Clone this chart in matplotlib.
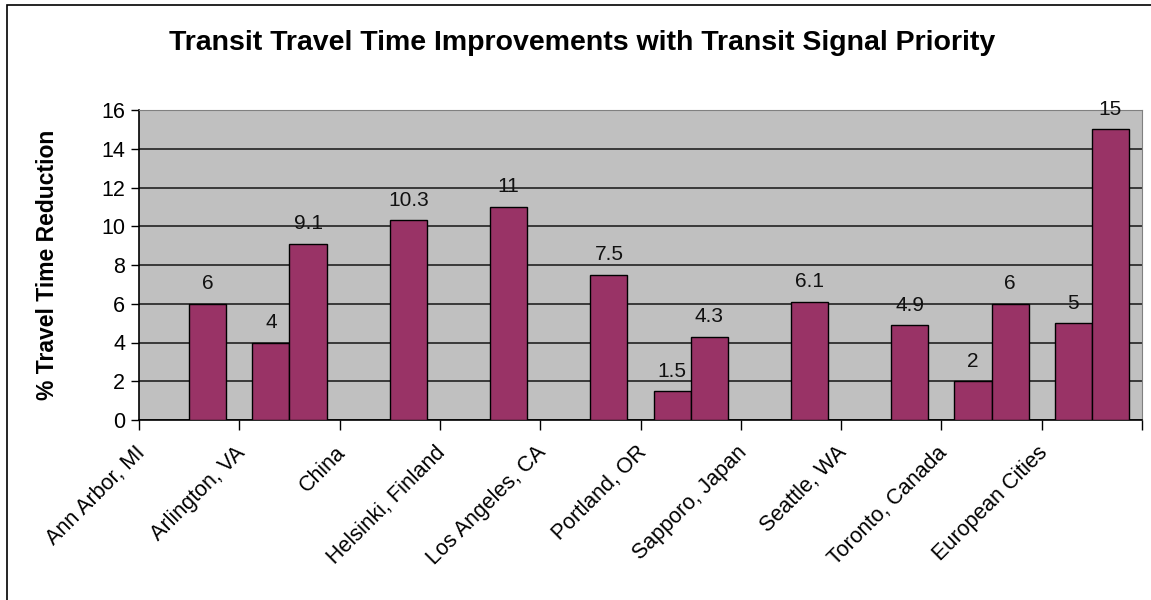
import numpy as np
import matplotlib.pyplot as plt
import matplotlib.transforms as mtransforms
from matplotlib.patches import Rectangle

# ============================
# Transit Signal Priority - travel time reduction
# ============================

cities = ["Ann Arbor, MI", "Arlington, VA", "China", "Helsinki, Finland",
          "Los Angeles, CA", "Portland, OR", "Sapporo, Japan", "Seattle, WA",
          "Toronto, Canada", "European Cities"]
low = [np.nan, 4, np.nan, np.nan, np.nan, 1.5, np.nan, np.nan, 2, 5]
high = [6, 9.1, 10.3, 11, 7.5, 4.3, 6.1, 4.9, 6, 15]
yticks = [0, 2, 4, 6, 8, 10, 12, 14, 16]

plt.rcParams["font.family"] = ["Liberation Sans", "DejaVu Sans"]

bar_color = "#993366"
bg_color = "#C0C0C0"

fig = plt.figure(figsize=(11.51, 6.00), dpi=100)
ax = fig.add_axes([139 / 1151, 180 / 600, 1003 / 1151, 310 / 600])
ax.set_facecolor(bg_color)

x = np.arange(len(cities))
w = 0.37
b1 = ax.bar(x - w / 2, low, w, color=bar_color, edgecolor="black", linewidth=1, zorder=3)
b2 = ax.bar(x + w / 2, high, w, color=bar_color, edgecolor="black", linewidth=1, zorder=3)

# value labels above bars
for bars, vals in [(b1, low), (b2, high)]:
    for rect, v in zip(bars, vals):
        if np.isnan(v):
            continue
        ax.annotate(f"{v:g}", (rect.get_x() + rect.get_width() / 2, v),
                    xytext=(0, 7.5), textcoords="offset points",
                    ha="center", va="bottom", fontsize=15, color="#111111",
                    annotation_clip=False, zorder=5)

ax.set_xlim(-0.5, len(cities) - 0.5)
ax.set_ylim(0, 16)
ax.set_yticks(yticks)
ax.tick_params(axis="y", labelsize=15.5, length=6, width=1, direction="out", pad=4)
ax.yaxis.grid(True, color="#222222", linewidth=1.2, zorder=1)
ax.set_axisbelow(True)

# x ticks at category boundaries, labels at category centres
ax.set_xticks(np.arange(-0.5, len(cities), 1.0))
ax.set_xticklabels([])
ax.tick_params(axis="x", length=7, width=1, direction="out")
ax.set_xticks(x, minor=True)
ax.set_xticklabels(cities, minor=True, rotation=45, ha="right", va="top", fontsize=15.5)
ax.tick_params(axis="x", which="minor", length=0, pad=16)
shift = mtransforms.ScaledTranslation(-40 / 100, 0, fig.dpi_scale_trans)
for lbl in ax.get_xticklabels(minor=True):
    lbl.set_transform(lbl.get_transform() + shift)

for s in ["top", "right"]:
    ax.spines[s].set_color("#808080")
for s in ["left", "bottom"]:
    ax.spines[s].set_color("black")
    ax.spines[s].set_linewidth(1.2)

ax.set_ylabel("% Travel Time Reduction", fontsize=16.5, fontweight="bold", labelpad=30)
fig.text(582 / 1151, 1 - 43 / 600, "Transit Travel Time Improvements with Transit Signal Priority",
         ha="center", va="center", fontsize=20.5, fontweight="bold")

# outer chart border (right and bottom edges fall outside the picture)
fig.patches.append(Rectangle((7 / 1151, -0.02), 1.05, 1 - 5 / 600 + 0.02,
                             transform=fig.transFigure, fill=False,
                             edgecolor="black", linewidth=1.2))

plt.savefig("out.png", dpi=100)
plt.close()
